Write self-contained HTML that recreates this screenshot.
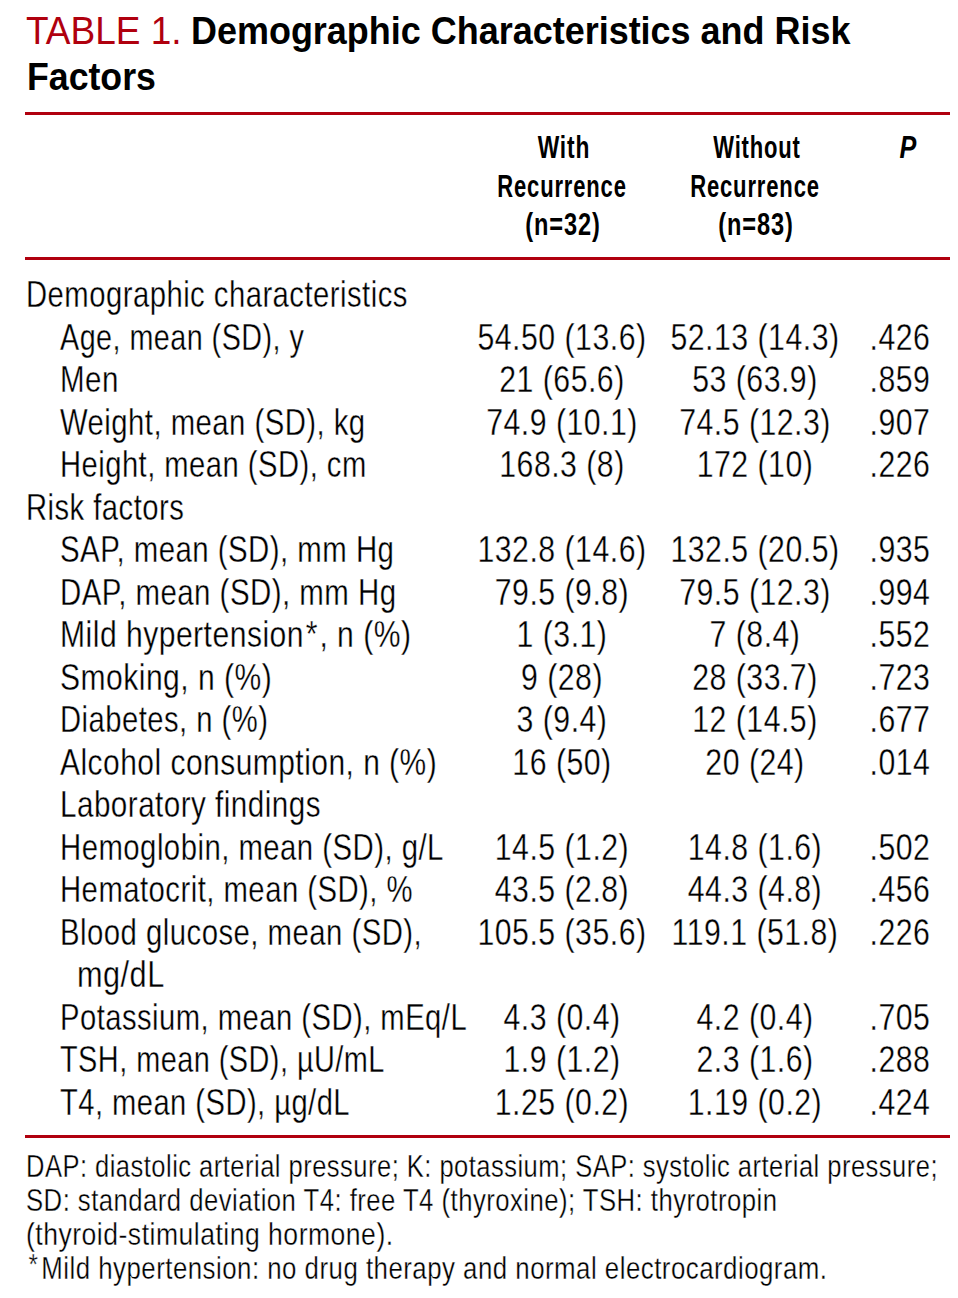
<!DOCTYPE html>
<html><head><meta charset="utf-8"><title>Table 1. Demographic Characteristics and Risk Factors</title>
<style>
html,body{margin:0;padding:0;background:#fff;}
body{width:958px;height:1298px;position:relative;overflow:hidden;font-family:"Liberation Sans",sans-serif;color:#000;}
.t{position:absolute;white-space:nowrap;}
.n{-webkit-text-stroke:0.35px #fff;letter-spacing:0.6px;}
.f{letter-spacing:0.6px;}
.ast{margin-left:2px;margin-right:2px;}
.fast{font-size:30px;line-height:0;vertical-align:5px;margin-left:3px;margin-right:3.6px;}
.r{position:absolute;left:25px;width:925px;height:3px;background:#b0000e;}
</style></head><body>
<div class="r" style="top:112px"></div><div class="r" style="top:257px"></div><div class="r" style="top:1135px"></div>
<div class="t" style="left:25.50px;top:10.98px;font-size:39px;line-height:39px;font-weight:400;font-style:normal;transform:scaleX(0.9490);transform-origin:0 0;"><span style="color:#b0000e">TABLE 1.</span></div>
<div class="t" style="left:191.00px;top:10.98px;font-size:39px;line-height:39px;font-weight:700;font-style:normal;transform:scaleX(0.9220);transform-origin:0 0;">Demographic Characteristics and Risk</div>
<div class="t" style="left:27.00px;top:56.98px;font-size:39px;line-height:39px;font-weight:700;font-style:normal;transform:scaleX(0.9150);transform-origin:0 0;">Factors</div>
<div class="t" style="left:563.90px;top:132.23px;font-size:31.5px;line-height:31.5px;font-weight:700;font-style:normal;transform:translateX(-50%) scaleX(0.7232);letter-spacing:1.2px;">With</div>
<div class="t" style="left:756.50px;top:132.23px;font-size:31.5px;line-height:31.5px;font-weight:700;font-style:normal;transform:translateX(-50%) scaleX(0.6986);letter-spacing:1.2px;">Without</div>
<div class="t" style="left:562.20px;top:170.73px;font-size:31.5px;line-height:31.5px;font-weight:700;font-style:normal;transform:translateX(-50%) scaleX(0.6987);letter-spacing:1.2px;">Recurrence</div>
<div class="t" style="left:755.30px;top:170.73px;font-size:31.5px;line-height:31.5px;font-weight:700;font-style:normal;transform:translateX(-50%) scaleX(0.6998);letter-spacing:1.2px;">Recurrence</div>
<div class="t" style="left:563.20px;top:209.23px;font-size:31.5px;line-height:31.5px;font-weight:700;font-style:normal;transform:translateX(-50%) scaleX(0.7491);letter-spacing:1.2px;">(n=32)</div>
<div class="t" style="left:756.20px;top:209.23px;font-size:31.5px;line-height:31.5px;font-weight:700;font-style:normal;transform:translateX(-50%) scaleX(0.7491);letter-spacing:1.2px;">(n=83)</div>
<div class="t" style="left:908.00px;top:132.23px;font-size:31.5px;line-height:31.5px;font-weight:700;font-style:italic;transform:translateX(-50%) scaleX(0.8000);">P</div>
<div class="t n" style="left:26.00px;top:276.08px;font-size:37.7px;line-height:37.7px;font-weight:400;font-style:normal;transform:scaleX(0.7767);transform-origin:0 0;">Demographic characteristics</div>
<div class="t n" style="left:59.50px;top:318.60px;font-size:37.7px;line-height:37.7px;font-weight:400;font-style:normal;transform:scaleX(0.7628);transform-origin:0 0;">Age, mean (SD), y</div>
<div class="t n" style="left:562.06px;top:318.60px;font-size:37.7px;line-height:37.7px;font-weight:400;font-style:normal;transform:translateX(-50%) scaleX(0.8032);">54.50 (13.6)</div>
<div class="t n" style="left:755.05px;top:318.60px;font-size:37.7px;line-height:37.7px;font-weight:400;font-style:normal;transform:translateX(-50%) scaleX(0.8032);">52.13 (14.3)</div>
<div class="t n" style="left:899.70px;top:318.60px;font-size:37.7px;line-height:37.7px;font-weight:400;font-style:normal;transform:translateX(-50%) scaleX(0.8032);">.426</div>
<div class="t n" style="left:59.50px;top:361.12px;font-size:37.7px;line-height:37.7px;font-weight:400;font-style:normal;transform:scaleX(0.7829);transform-origin:0 0;">Men</div>
<div class="t n" style="left:562.06px;top:361.12px;font-size:37.7px;line-height:37.7px;font-weight:400;font-style:normal;transform:translateX(-50%) scaleX(0.8032);">21 (65.6)</div>
<div class="t n" style="left:755.05px;top:361.12px;font-size:37.7px;line-height:37.7px;font-weight:400;font-style:normal;transform:translateX(-50%) scaleX(0.8032);">53 (63.9)</div>
<div class="t n" style="left:899.70px;top:361.12px;font-size:37.7px;line-height:37.7px;font-weight:400;font-style:normal;transform:translateX(-50%) scaleX(0.8032);">.859</div>
<div class="t n" style="left:59.50px;top:403.64px;font-size:37.7px;line-height:37.7px;font-weight:400;font-style:normal;transform:scaleX(0.7775);transform-origin:0 0;">Weight, mean (SD), kg</div>
<div class="t n" style="left:562.06px;top:403.64px;font-size:37.7px;line-height:37.7px;font-weight:400;font-style:normal;transform:translateX(-50%) scaleX(0.8032);">74.9 (10.1)</div>
<div class="t n" style="left:755.05px;top:403.64px;font-size:37.7px;line-height:37.7px;font-weight:400;font-style:normal;transform:translateX(-50%) scaleX(0.8032);">74.5 (12.3)</div>
<div class="t n" style="left:899.70px;top:403.64px;font-size:37.7px;line-height:37.7px;font-weight:400;font-style:normal;transform:translateX(-50%) scaleX(0.8032);">.907</div>
<div class="t n" style="left:59.50px;top:446.16px;font-size:37.7px;line-height:37.7px;font-weight:400;font-style:normal;transform:scaleX(0.7747);transform-origin:0 0;">Height, mean (SD), cm</div>
<div class="t n" style="left:562.06px;top:446.16px;font-size:37.7px;line-height:37.7px;font-weight:400;font-style:normal;transform:translateX(-50%) scaleX(0.8032);">168.3 (8)</div>
<div class="t n" style="left:755.05px;top:446.16px;font-size:37.7px;line-height:37.7px;font-weight:400;font-style:normal;transform:translateX(-50%) scaleX(0.8032);">172 (10)</div>
<div class="t n" style="left:899.70px;top:446.16px;font-size:37.7px;line-height:37.7px;font-weight:400;font-style:normal;transform:translateX(-50%) scaleX(0.8032);">.226</div>
<div class="t n" style="left:26.00px;top:488.68px;font-size:37.7px;line-height:37.7px;font-weight:400;font-style:normal;transform:scaleX(0.7756);transform-origin:0 0;">Risk factors</div>
<div class="t n" style="left:59.50px;top:531.20px;font-size:37.7px;line-height:37.7px;font-weight:400;font-style:normal;transform:scaleX(0.7801);transform-origin:0 0;">SAP, mean (SD), mm Hg</div>
<div class="t n" style="left:562.06px;top:531.20px;font-size:37.7px;line-height:37.7px;font-weight:400;font-style:normal;transform:translateX(-50%) scaleX(0.8032);">132.8 (14.6)</div>
<div class="t n" style="left:755.05px;top:531.20px;font-size:37.7px;line-height:37.7px;font-weight:400;font-style:normal;transform:translateX(-50%) scaleX(0.8032);">132.5 (20.5)</div>
<div class="t n" style="left:899.70px;top:531.20px;font-size:37.7px;line-height:37.7px;font-weight:400;font-style:normal;transform:translateX(-50%) scaleX(0.8032);">.935</div>
<div class="t n" style="left:59.50px;top:573.72px;font-size:37.7px;line-height:37.7px;font-weight:400;font-style:normal;transform:scaleX(0.7812);transform-origin:0 0;">DAP, mean (SD), mm Hg</div>
<div class="t n" style="left:562.06px;top:573.72px;font-size:37.7px;line-height:37.7px;font-weight:400;font-style:normal;transform:translateX(-50%) scaleX(0.8032);">79.5 (9.8)</div>
<div class="t n" style="left:755.05px;top:573.72px;font-size:37.7px;line-height:37.7px;font-weight:400;font-style:normal;transform:translateX(-50%) scaleX(0.8032);">79.5 (12.3)</div>
<div class="t n" style="left:899.70px;top:573.72px;font-size:37.7px;line-height:37.7px;font-weight:400;font-style:normal;transform:translateX(-50%) scaleX(0.8032);">.994</div>
<div class="t n" style="left:59.50px;top:616.24px;font-size:37.7px;line-height:37.7px;font-weight:400;font-style:normal;transform:scaleX(0.7986);transform-origin:0 0;">Mild hypertension<span class="ast">*</span>, n (%)</div>
<div class="t n" style="left:562.06px;top:616.24px;font-size:37.7px;line-height:37.7px;font-weight:400;font-style:normal;transform:translateX(-50%) scaleX(0.8032);">1 (3.1)</div>
<div class="t n" style="left:755.05px;top:616.24px;font-size:37.7px;line-height:37.7px;font-weight:400;font-style:normal;transform:translateX(-50%) scaleX(0.8032);">7 (8.4)</div>
<div class="t n" style="left:899.70px;top:616.24px;font-size:37.7px;line-height:37.7px;font-weight:400;font-style:normal;transform:translateX(-50%) scaleX(0.8032);">.552</div>
<div class="t n" style="left:59.50px;top:658.76px;font-size:37.7px;line-height:37.7px;font-weight:400;font-style:normal;transform:scaleX(0.7977);transform-origin:0 0;">Smoking, n (%)</div>
<div class="t n" style="left:562.06px;top:658.76px;font-size:37.7px;line-height:37.7px;font-weight:400;font-style:normal;transform:translateX(-50%) scaleX(0.8032);">9 (28)</div>
<div class="t n" style="left:755.05px;top:658.76px;font-size:37.7px;line-height:37.7px;font-weight:400;font-style:normal;transform:translateX(-50%) scaleX(0.8032);">28 (33.7)</div>
<div class="t n" style="left:899.70px;top:658.76px;font-size:37.7px;line-height:37.7px;font-weight:400;font-style:normal;transform:translateX(-50%) scaleX(0.8032);">.723</div>
<div class="t n" style="left:59.50px;top:701.28px;font-size:37.7px;line-height:37.7px;font-weight:400;font-style:normal;transform:scaleX(0.7755);transform-origin:0 0;">Diabetes, n (%)</div>
<div class="t n" style="left:562.06px;top:701.28px;font-size:37.7px;line-height:37.7px;font-weight:400;font-style:normal;transform:translateX(-50%) scaleX(0.8032);">3 (9.4)</div>
<div class="t n" style="left:755.05px;top:701.28px;font-size:37.7px;line-height:37.7px;font-weight:400;font-style:normal;transform:translateX(-50%) scaleX(0.8032);">12 (14.5)</div>
<div class="t n" style="left:899.70px;top:701.28px;font-size:37.7px;line-height:37.7px;font-weight:400;font-style:normal;transform:translateX(-50%) scaleX(0.8032);">.677</div>
<div class="t n" style="left:59.50px;top:743.80px;font-size:37.7px;line-height:37.7px;font-weight:400;font-style:normal;transform:scaleX(0.7951);transform-origin:0 0;">Alcohol consumption, n (%)</div>
<div class="t n" style="left:562.06px;top:743.80px;font-size:37.7px;line-height:37.7px;font-weight:400;font-style:normal;transform:translateX(-50%) scaleX(0.8032);">16 (50)</div>
<div class="t n" style="left:755.05px;top:743.80px;font-size:37.7px;line-height:37.7px;font-weight:400;font-style:normal;transform:translateX(-50%) scaleX(0.8032);">20 (24)</div>
<div class="t n" style="left:899.70px;top:743.80px;font-size:37.7px;line-height:37.7px;font-weight:400;font-style:normal;transform:translateX(-50%) scaleX(0.8032);">.014</div>
<div class="t n" style="left:59.50px;top:786.32px;font-size:37.7px;line-height:37.7px;font-weight:400;font-style:normal;transform:scaleX(0.7863);transform-origin:0 0;">Laboratory findings</div>
<div class="t n" style="left:59.50px;top:828.84px;font-size:37.7px;line-height:37.7px;font-weight:400;font-style:normal;transform:scaleX(0.7782);transform-origin:0 0;">Hemoglobin, mean (SD), g/L</div>
<div class="t n" style="left:562.06px;top:828.84px;font-size:37.7px;line-height:37.7px;font-weight:400;font-style:normal;transform:translateX(-50%) scaleX(0.8032);">14.5 (1.2)</div>
<div class="t n" style="left:755.05px;top:828.84px;font-size:37.7px;line-height:37.7px;font-weight:400;font-style:normal;transform:translateX(-50%) scaleX(0.8032);">14.8 (1.6)</div>
<div class="t n" style="left:899.70px;top:828.84px;font-size:37.7px;line-height:37.7px;font-weight:400;font-style:normal;transform:translateX(-50%) scaleX(0.8032);">.502</div>
<div class="t n" style="left:59.50px;top:871.36px;font-size:37.7px;line-height:37.7px;font-weight:400;font-style:normal;transform:scaleX(0.7773);transform-origin:0 0;">Hematocrit, mean (SD), %</div>
<div class="t n" style="left:562.06px;top:871.36px;font-size:37.7px;line-height:37.7px;font-weight:400;font-style:normal;transform:translateX(-50%) scaleX(0.8032);">43.5 (2.8)</div>
<div class="t n" style="left:755.05px;top:871.36px;font-size:37.7px;line-height:37.7px;font-weight:400;font-style:normal;transform:translateX(-50%) scaleX(0.8032);">44.3 (4.8)</div>
<div class="t n" style="left:899.70px;top:871.36px;font-size:37.7px;line-height:37.7px;font-weight:400;font-style:normal;transform:translateX(-50%) scaleX(0.8032);">.456</div>
<div class="t n" style="left:59.50px;top:913.88px;font-size:37.7px;line-height:37.7px;font-weight:400;font-style:normal;transform:scaleX(0.7782);transform-origin:0 0;">Blood glucose, mean (SD),</div>
<div class="t n" style="left:562.06px;top:913.88px;font-size:37.7px;line-height:37.7px;font-weight:400;font-style:normal;transform:translateX(-50%) scaleX(0.8032);">105.5 (35.6)</div>
<div class="t n" style="left:755.05px;top:913.88px;font-size:37.7px;line-height:37.7px;font-weight:400;font-style:normal;transform:translateX(-50%) scaleX(0.8032);">119.1 (51.8)</div>
<div class="t n" style="left:899.70px;top:913.88px;font-size:37.7px;line-height:37.7px;font-weight:400;font-style:normal;transform:translateX(-50%) scaleX(0.8032);">.226</div>
<div class="t n" style="left:77.00px;top:956.40px;font-size:37.7px;line-height:37.7px;font-weight:400;font-style:normal;transform:scaleX(0.8143);transform-origin:0 0;">mg/dL</div>
<div class="t n" style="left:59.50px;top:998.92px;font-size:37.7px;line-height:37.7px;font-weight:400;font-style:normal;transform:scaleX(0.7752);transform-origin:0 0;">Potassium, mean (SD), mEq/L</div>
<div class="t n" style="left:562.06px;top:998.92px;font-size:37.7px;line-height:37.7px;font-weight:400;font-style:normal;transform:translateX(-50%) scaleX(0.8032);">4.3 (0.4)</div>
<div class="t n" style="left:755.05px;top:998.92px;font-size:37.7px;line-height:37.7px;font-weight:400;font-style:normal;transform:translateX(-50%) scaleX(0.8032);">4.2 (0.4)</div>
<div class="t n" style="left:899.70px;top:998.92px;font-size:37.7px;line-height:37.7px;font-weight:400;font-style:normal;transform:translateX(-50%) scaleX(0.8032);">.705</div>
<div class="t n" style="left:59.50px;top:1041.44px;font-size:37.7px;line-height:37.7px;font-weight:400;font-style:normal;transform:scaleX(0.7665);transform-origin:0 0;">TSH, mean (SD), µU/mL</div>
<div class="t n" style="left:562.06px;top:1041.44px;font-size:37.7px;line-height:37.7px;font-weight:400;font-style:normal;transform:translateX(-50%) scaleX(0.8032);">1.9 (1.2)</div>
<div class="t n" style="left:755.05px;top:1041.44px;font-size:37.7px;line-height:37.7px;font-weight:400;font-style:normal;transform:translateX(-50%) scaleX(0.8032);">2.3 (1.6)</div>
<div class="t n" style="left:899.70px;top:1041.44px;font-size:37.7px;line-height:37.7px;font-weight:400;font-style:normal;transform:translateX(-50%) scaleX(0.8032);">.288</div>
<div class="t n" style="left:59.50px;top:1083.96px;font-size:37.7px;line-height:37.7px;font-weight:400;font-style:normal;transform:scaleX(0.7730);transform-origin:0 0;">T4, mean (SD), µg/dL</div>
<div class="t n" style="left:562.06px;top:1083.96px;font-size:37.7px;line-height:37.7px;font-weight:400;font-style:normal;transform:translateX(-50%) scaleX(0.8032);">1.25 (0.2)</div>
<div class="t n" style="left:755.05px;top:1083.96px;font-size:37.7px;line-height:37.7px;font-weight:400;font-style:normal;transform:translateX(-50%) scaleX(0.8032);">1.19 (0.2)</div>
<div class="t n" style="left:899.70px;top:1083.96px;font-size:37.7px;line-height:37.7px;font-weight:400;font-style:normal;transform:translateX(-50%) scaleX(0.8032);">.424</div>
<div class="t n f" style="left:26.00px;top:1149.71px;font-size:32px;line-height:32px;font-weight:400;font-style:normal;transform:scaleX(0.7975);transform-origin:0 0;">DAP: diastolic arterial pressure; K: potassium; SAP: systolic arterial pressure;</div>
<div class="t n f" style="left:26.00px;top:1183.76px;font-size:32px;line-height:32px;font-weight:400;font-style:normal;transform:scaleX(0.8023);transform-origin:0 0;">SD: standard deviation T4: free T4 (thyroxine); TSH: thyrotropin</div>
<div class="t n f" style="left:26.00px;top:1217.81px;font-size:32px;line-height:32px;font-weight:400;font-style:normal;transform:scaleX(0.8297);transform-origin:0 0;">(thyroid-stimulating hormone).</div>
<div class="t n f" style="left:26.00px;top:1251.86px;font-size:32px;line-height:32px;font-weight:400;font-style:normal;transform:scaleX(0.8072);transform-origin:0 0;"><span class="fast">*</span>Mild hypertension: no drug therapy and normal electrocardiogram.</div>
</body></html>
